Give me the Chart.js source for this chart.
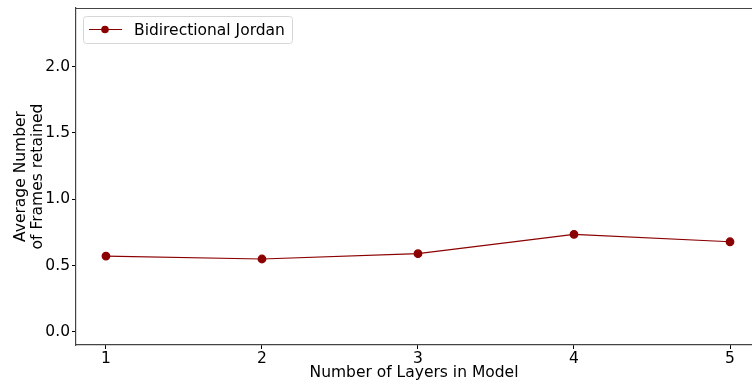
<!DOCTYPE html>
<html>
<head>
<meta charset="utf-8">
<script src="https://cdn.jsdelivr.net/npm/chart.js@4.4.1/dist/chart.umd.min.js"></script>
<style>
  html, body { margin: 0; padding: 0; background: #fff; }
  #wrap { width: 752px; height: 384px; }
</style>
</head>
<body>
<div id="wrap"><canvas id="framesChart" width="752" height="384"></canvas></div>
<script>
// layers in model vs. average frames retained
const layers = [1, 2, 3, 4, 5];
const framesRetained = [0.571, 0.549, 0.589, 0.735, 0.679];
const seriesName = "Bidirectional Jordan";
const yTicks = [0, 0.5, 1.0, 1.5, 2.0];

const FONT = "'DejaVu Sans', sans-serif";
const lineColor = '#8b0000';
const spineColor = '#444';

// top spine + legend box drawn in the chart area
const frame = {
  id: 'frame',
  afterDraw(chart) {
    const { ctx, chartArea: a } = chart;
    ctx.save();
    ctx.strokeStyle = spineColor;
    ctx.lineWidth = 1.2;
    ctx.beginPath();
    ctx.moveTo(a.left, a.top + 0.5);
    ctx.lineTo(a.right, a.top + 0.5);
    ctx.stroke();

    // legend
    const x = a.left + 7, y = a.top + 8, w = 209, h = 27;
    ctx.fillStyle = 'rgba(255,255,255,0.8)';
    ctx.strokeStyle = '#d6d6d6';
    ctx.lineWidth = 1;
    ctx.beginPath();
    ctx.roundRect(x + 0.5, y + 0.5, w, h, 3);
    ctx.fill();
    ctx.stroke();
    const cy = y + 13.5;
    ctx.strokeStyle = lineColor;
    ctx.lineWidth = 1.2;
    ctx.beginPath();
    ctx.moveTo(x + 6, cy);
    ctx.lineTo(x + 39, cy);
    ctx.stroke();
    ctx.fillStyle = lineColor;
    ctx.beginPath();
    ctx.arc(x + 22, cy, 3.8, 0, Math.PI * 2);
    ctx.fill();
    ctx.fillStyle = '#000';
    ctx.font = '15.5px ' + FONT;
    ctx.textBaseline = 'middle';
    ctx.fillText(chart.data.datasets[0].label, x + 51, cy + 1);
    ctx.restore();
  }
};

new Chart(document.getElementById('framesChart'), {
  type: 'line',
  data: {
    datasets: [{
      label: seriesName,
      data: layers.map((l, i) => ({ x: l, y: framesRetained[i] })),
      borderColor: lineColor,
      backgroundColor: lineColor,
      borderWidth: 1.2,
      pointRadius: 3.8,
      pointHoverRadius: 3.8,
      tension: 0
    }]
  },
  options: {
    responsive: false,
    animation: false,
    layout: { autoPadding: false, padding: { top: 8, right: 0, left: 0, bottom: 0 } },
    plugins: { legend: { display: false }, tooltip: { enabled: false } },
    scales: {
      x: {
        type: 'linear',
        min: 0.808,
        max: 5.141,
        afterBuildTicks: s => { s.ticks = layers.map(v => ({ value: v })); },
        afterFit: s => { s.height = 39; s.paddingLeft = 0; s.paddingRight = 0; },
        border: { color: spineColor, width: 1.2 },
        grid: { drawOnChartArea: false, tickLength: 4, color: '#000' },
        ticks: { color: '#000', font: { family: FONT, size: 15.5 }, padding: 1, maxRotation: 0, callback: v => v },
        title: { display: true, text: 'Number of Layers in Model', color: '#000', font: { family: FONT, size: 15.5 }, padding: { top: 0, bottom: 2 } }
      },
      y: {
        min: -0.1,
        max: 2.443,
        afterBuildTicks: s => { s.ticks = yTicks.map(v => ({ value: v })); },
        afterFit: s => { s.width = 76; s.paddingTop = 0; s.paddingBottom = 0; },
        border: { color: spineColor, width: 1.2 },
        grid: { drawOnChartArea: false, tickLength: 4, color: '#000' },
        ticks: { color: '#000', font: { family: FONT, size: 15.5 }, padding: 2, callback: v => v.toFixed(1) },
        title: { display: true, text: ['Average Number', 'of Frames retained'], color: '#000', font: { family: FONT, size: 15.5, lineHeight: 1.1 }, padding: { top: 12, bottom: 0 } }
      }
    }
  },
  plugins: [frame]
});
</script>
</body>
</html>
